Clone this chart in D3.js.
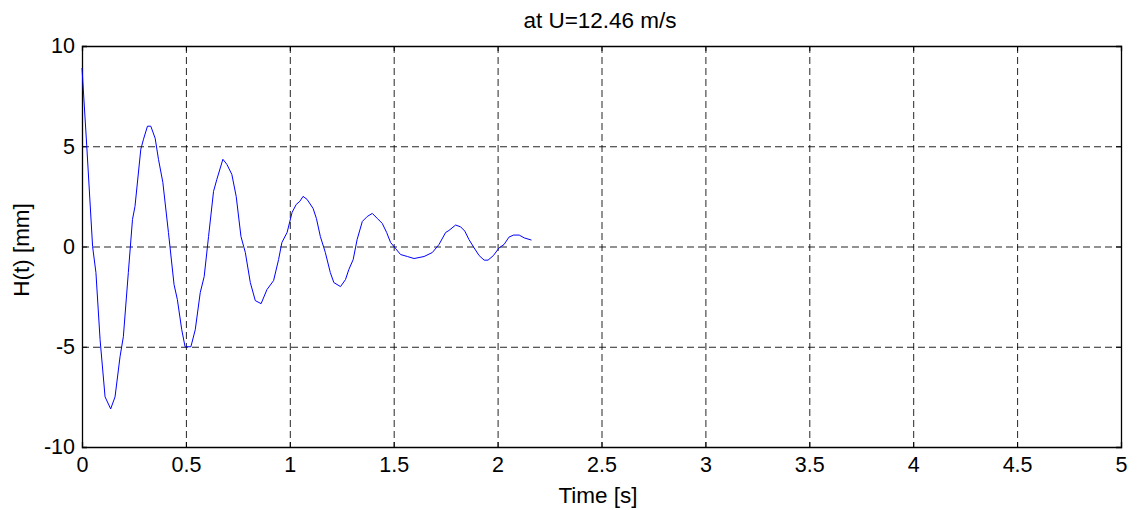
<!DOCTYPE html>
<html><head><meta charset="utf-8">
<script src="https://cdn.jsdelivr.net/npm/d3@7"></script>
<style>body{margin:0;background:#fff}svg{display:block}</style>
</head><body>
<svg id="c" width="1138" height="510"></svg>
<script>
const title = "at U=12.46 m/s";
const xLabel = "Time [s]";
const yLabel = "H(t) [mm]";
const xTicks = [0,0.5,1,1.5,2,2.5,3,3.5,4,4.5,5];
const yTicks = [-10,-5,0,5,10];
const time = [0,0.023,0.051,0.067,0.087,0.111,0.138,0.159,0.183,0.199,0.223,0.243,0.255,0.283,0.296,0.315,0.331,0.352,0.368,0.389,0.416,0.443,0.459,0.480,0.496,0.524,0.545,0.569,0.588,0.609,0.633,0.649,0.678,0.697,0.721,0.742,0.765,0.786,0.810,0.834,0.862,0.890,0.922,0.946,0.962,0.987,1.011,1.031,1.048,1.064,1.083,1.112,1.128,1.147,1.171,1.195,1.212,1.244,1.268,1.284,1.305,1.324,1.349,1.373,1.397,1.421,1.445,1.466,1.485,1.509,1.533,1.566,1.598,1.646,1.686,1.718,1.750,1.766,1.798,1.822,1.842,1.862,1.887,1.911,1.935,1.954,1.980,2.007,2.031,2.055,2.077,2.104,2.128,2.163];
const height = [8.9,5.0,0,-1.3,-4.65,-7.5,-8.1,-7.5,-5.5,-4.5,-1.3,1.35,2.0,4.85,5.35,6.0,6.0,5.4,4.35,3.2,0.7,-1.9,-2.65,-4.15,-5.0,-5.0,-4.15,-2.3,-1.5,0.5,2.75,3.35,4.35,4.1,3.6,2.5,0.5,-0.3,-1.8,-2.7,-2.85,-2.15,-1.7,-0.65,0.2,0.7,1.7,2.1,2.25,2.5,2.35,1.9,1.4,0.5,-0.3,-1.3,-1.8,-2.0,-1.65,-1.15,-0.65,0.35,1.25,1.5,1.65,1.4,1.15,0.7,0.2,-0.1,-0.4,-0.5,-0.6,-0.5,-0.3,0.1,0.7,0.8,1.07,0.98,0.77,0.35,-0.07,-0.45,-0.68,-0.68,-0.45,-0.07,0.1,0.47,0.57,0.57,0.43,0.32];

const svg = d3.select("#c");
const L=82, R=1121, T=46, B=447;
const x = d3.scaleLinear().domain([0,5]).range([L,R]);
const y = d3.scaleLinear().domain([-10,10]).range([B,T]);
const font = "Liberation Sans, Arial, sans-serif";
const fsTick = 21.5, fsLab = 22.5;

// grid
const g = svg.append("g");
g.selectAll(".vx").data(xTicks.slice(1,-1)).join("line")
  .attr("x1",d=>x(d)+0.5).attr("x2",d=>x(d)+0.5).attr("y1",T).attr("y2",B)
  .attr("stroke","#000").attr("stroke-dasharray","7,4").attr("stroke-width",1).attr("opacity",0.85);
g.selectAll(".hy").data(yTicks.slice(1,-1)).join("line")
  .attr("y1",d=>y(d)+0.5).attr("y2",d=>y(d)+0.5).attr("x1",L).attr("x2",R)
  .attr("stroke","#000").attr("stroke-dasharray","7,4").attr("stroke-width",1).attr("opacity",0.85);

const fmt = d => String(d);
// axes
const xa = svg.append("g").attr("transform",`translate(0,${B})`)
  .call(d3.axisBottom(x).tickValues(xTicks).tickSize(-5).tickPadding(10).tickFormat(fmt));
const xt = svg.append("g").attr("transform",`translate(0,${T})`)
  .call(d3.axisTop(x).tickValues(xTicks).tickSize(-5).tickFormat(""));
const ya = svg.append("g").attr("transform",`translate(${L},0)`)
  .call(d3.axisLeft(y).tickValues(yTicks).tickSize(-5).tickPadding(7).tickFormat(fmt));
const yr = svg.append("g").attr("transform",`translate(${R},0)`)
  .call(d3.axisRight(y).tickValues(yTicks).tickSize(-5).tickFormat(""));
[xa,xt,ya,yr].forEach(a=>{
  a.selectAll("path").attr("stroke","#000").attr("stroke-width",1.3);
  a.selectAll("line").attr("stroke","#000");
  a.selectAll("text").attr("font-family",font).attr("font-size",fsTick).attr("fill","#000");
});

// line
svg.append("path").datum(time.map((t,i)=>[t,height[i]]))
  .attr("d",d3.line().x(d=>x(d[0])).y(d=>y(d[1])))
  .attr("fill","none").attr("stroke","#0000ff").attr("stroke-width",1);

// labels
svg.append("text").attr("x",600).attr("y",28).attr("text-anchor","middle")
  .attr("font-family",font).attr("font-size",fsLab).text(title);
svg.append("text").attr("x",598).attr("y",503).attr("text-anchor","middle")
  .attr("font-family",font).attr("font-size",fsLab).text(xLabel);
svg.append("text").attr("transform",`translate(29,250) rotate(-90)`).attr("text-anchor","middle")
  .attr("font-family",font).attr("font-size",fsLab).text(yLabel);
</script>
</body></html>
